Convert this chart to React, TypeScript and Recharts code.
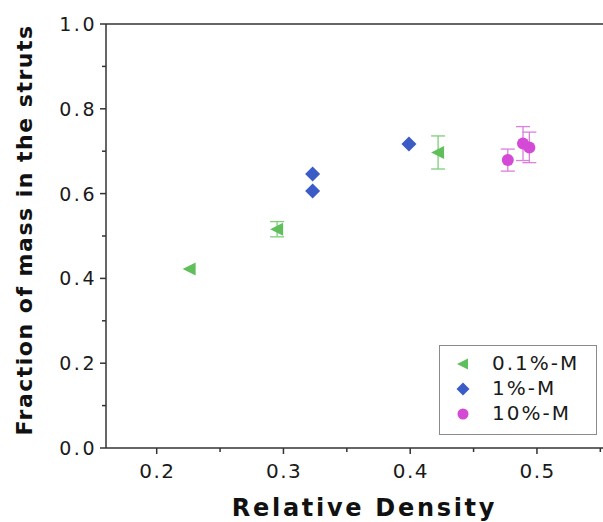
import React from 'react';
import { ScatterChart, Scatter, XAxis, YAxis, ErrorBar, ReferenceLine, Legend } from 'recharts';

const seriesNames = ['0.1%-M', '1%-M', '10%-M'];

const greenX = [0.226, 0.295, 0.422];
const greenY = [0.422, 0.516, 0.697];
const greenErr = [0, 0.018, 0.039];

const blueX = [0.323, 0.323, 0.399];
const blueY = [0.606, 0.646, 0.717];

const magentaX = [0.477, 0.489, 0.494];
const magentaY = [0.679, 0.718, 0.709];
const magentaErr = [0.026, 0.04, 0.036];

const xTicks = [0.2, 0.25, 0.3, 0.35, 0.4, 0.45, 0.5, 0.55];
const xMajor = [0.2, 0.3, 0.4, 0.5];
const yTicks = [0, 0.1, 0.2, 0.3, 0.4, 0.5, 0.6, 0.7, 0.8, 0.9, 1.0];
const yMajor = [0, 0.2, 0.4, 0.6, 0.8, 1.0];

const xTitle = 'Relative Density';
const yTitle = 'Fraction of mass in the struts';

const GREEN = '#5fbf5a';
const GREEN_ERR = '#7fcd7a';
const BLUE = '#3b5cc6';
const MAGENTA = '#d44ad6';
const MAGENTA_ERR = '#dc7fdd';
const AXIS = '#333333';
const FONT = '"DejaVu Sans", Verdana, sans-serif';

const greenData = greenX.map((x, i) => ({ x, y: greenY[i], err: greenErr[i] }));
const blueData = blueX.map((x, i) => ({ x, y: blueY[i] }));
const magentaData = magentaX.map((x, i) => ({ x, y: magentaY[i], err: magentaErr[i] }));

const isIn = (arr: number[], v: number) => arr.some((a) => Math.abs(a - v) < 1e-9);

const Tri = ({ cx, cy }: any) => (
  <polygon points={`${cx - 7},${cy} ${cx + 6},${cy - 6.5} ${cx + 6},${cy + 6.5}`} fill={GREEN} />
);
const Dia = ({ cx, cy }: any) => (
  <polygon points={`${cx},${cy - 7.5} ${cx + 7.5},${cy} ${cx},${cy + 7.5} ${cx - 7.5},${cy}`} fill={BLUE} />
);
const Circ = ({ cx, cy }: any) => <circle cx={cx} cy={cy} r={6} fill={MAGENTA} />;

const XTick = (props: any) => {
  const { x, y, payload } = props;
  const v = payload.value;
  const major = isIn(xMajor, v);
  return (
    <g>
      <line x1={x} x2={x} y1={y} y2={y + (major ? 6 : 4)} stroke={AXIS} strokeWidth={1.5} />
      {major && (
        <text x={x + 0.75} y={y + 30} textAnchor="middle" fontFamily={FONT} fontSize={20} letterSpacing={1.5} fill="#1a1a1a">
          {v.toFixed(1)}
        </text>
      )}
    </g>
  );
};

const YTick = (props: any) => {
  const { x, y, payload } = props;
  const v = payload.value;
  const major = isIn(yMajor, v);
  return (
    <g>
      <line x1={x} x2={x - (major ? 6 : 4)} y1={y} y2={y} stroke={AXIS} strokeWidth={1.5} />
      {major && (
        <text x={x - 9} y={y + 7} textAnchor="end" fontFamily={FONT} fontSize={19} letterSpacing={2.5} fill="#1a1a1a">
          {v.toFixed(1)}
        </text>
      )}
    </g>
  );
};

const XTitle = ({ viewBox }: any) => (
  <text
    x={viewBox.x + viewBox.width / 2 + 5}
    y={viewBox.y + viewBox.height - 6}
    textAnchor="middle"
    fontFamily={FONT}
    fontWeight="bold"
    fontSize={24}
    letterSpacing={2.7}
    fill="#111"
  >
    {xTitle}
  </text>
);

const YTitle = ({ viewBox }: any) => {
  const cx = viewBox.x + 32;
  const cy = viewBox.y + viewBox.height / 2 - 6;
  return (
    <text
      x={cx}
      y={cy}
      transform={`rotate(-90 ${cx} ${cy})`}
      textAnchor="middle"
      fontFamily={FONT}
      fontWeight="bold"
      fontSize={22}
      letterSpacing={1.5}
      fill="#111"
    >
      {yTitle}
    </text>
  );
};

const legendMarkers = [
  (s: number) => <polygon points={`${s / 2 - 6},${s / 2} ${s / 2 + 5},${s / 2 - 5.5} ${s / 2 + 5},${s / 2 + 5.5}`} fill={GREEN} />,
  (s: number) => <polygon points={`${s / 2},${s / 2 - 6.5} ${s / 2 + 6.5},${s / 2} ${s / 2},${s / 2 + 6.5} ${s / 2 - 6.5},${s / 2}`} fill={BLUE} />,
  (s: number) => <circle cx={s / 2} cy={s / 2} r={5.5} fill={MAGENTA} />,
];

const LegendBox = () => (
  <div
    style={{
      width: 156,
      height: 83,
      border: '1px solid #8a8a8a',
      background: '#fff',
      boxSizing: 'content-box',
      paddingTop: 5,
    }}
  >
    {seriesNames.map((name, i) => (
      <div key={name} style={{ display: 'flex', alignItems: 'center', height: 25 }}>
        <svg width={16} height={16} style={{ marginLeft: 15, display: 'block' }}>
          {legendMarkers[i](16)}
        </svg>
        <span
          style={{
            marginLeft: 21,
            fontFamily: FONT,
            fontSize: 20,
            letterSpacing: 2,
            color: '#1a1a1a',
            lineHeight: '25px',
          }}
        >
          {name}
        </span>
      </div>
    ))}
  </div>
);

export default function App() {
  return (
    <div style={{ position: 'fixed', left: 0, top: 0, width: 603, height: 522, overflow: 'hidden', background: '#fff' }}>
      <ScatterChart width={620} height={522} margin={{ top: 24, right: 7, bottom: 0, left: 0 }}>
        <XAxis
          type="number"
          dataKey="x"
          domain={[0.16, 0.56]}
          allowDataOverflow
          ticks={xTicks}
          interval={0}
          tick={<XTick />}
          tickLine={false}
          tickSize={0}
          tickMargin={0}
          height={74}
          axisLine={{ stroke: AXIS, strokeWidth: 1.5 }}
          label={<XTitle />}
        />
        <YAxis
          type="number"
          dataKey="y"
          domain={[0, 1]}
          allowDataOverflow
          ticks={yTicks}
          interval={0}
          tick={<YTick />}
          tickLine={false}
          tickSize={0}
          tickMargin={0}
          width={106}
          axisLine={{ stroke: AXIS, strokeWidth: 1.5 }}
          label={<YTitle />}
        />
        <ReferenceLine y={1} stroke={AXIS} strokeWidth={1.5} />
        <Scatter name={seriesNames[0]} data={greenData} fill={GREEN} shape={<Tri />} isAnimationActive={false}>
          <ErrorBar dataKey="err" direction="y" width={7} stroke={GREEN_ERR} strokeWidth={1.3} />
        </Scatter>
        <Scatter name={seriesNames[1]} data={blueData} fill={BLUE} shape={<Dia />} isAnimationActive={false} />
        <Scatter name={seriesNames[2]} data={magentaData} fill={MAGENTA} shape={<Circ />} isAnimationActive={false}>
          <ErrorBar dataKey="err" direction="y" width={7} stroke={MAGENTA_ERR} strokeWidth={1.3} />
        </Scatter>
        <Legend
          layout="vertical"
          align="center"
          verticalAlign="middle"
          content={() => <LegendBox />}
          wrapperStyle={{ left: 439, top: 345, width: 158, height: 89, bottom: 'auto', right: 'auto' }}
        />
      </ScatterChart>
    </div>
  );
}
